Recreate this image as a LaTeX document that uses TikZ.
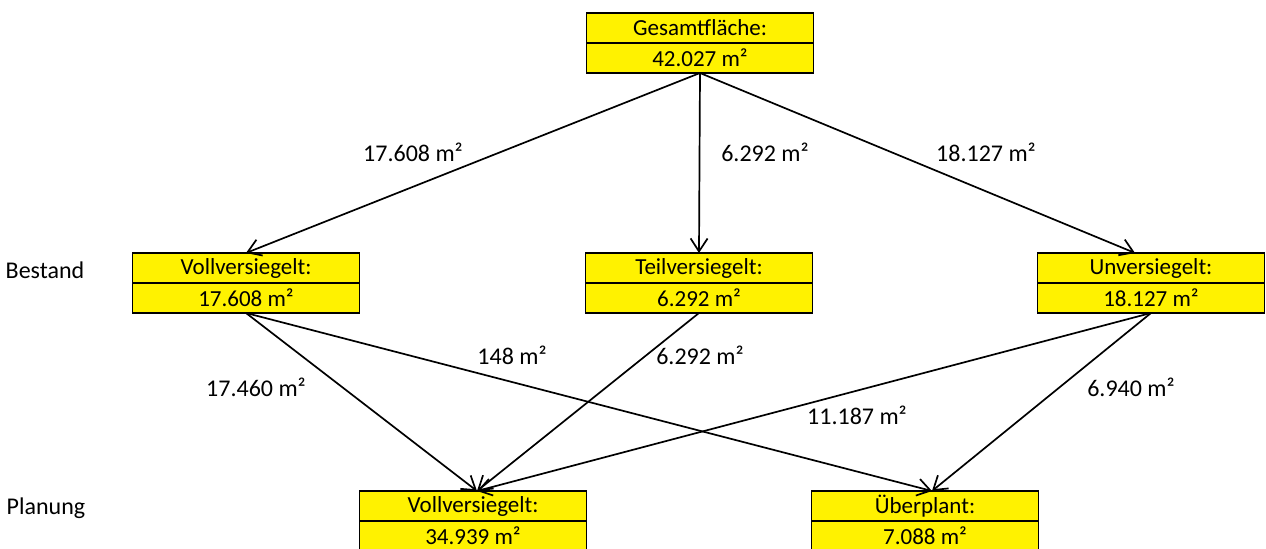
\documentclass[tikz,border=0pt]{standalone}
\usepackage{fontspec}
\setmainfont{Carlito}
\usetikzlibrary{arrows.meta,positioning}
\tikzset{
  flcell/.style={draw,line width=0.9pt,fill=yellow,outer sep=0pt,inner sep=0pt,
    minimum width=113.5pt,minimum height=15pt,font=\fontsize{11.5}{13}\selectfont},
  flarr/.style={line width=0.85pt,-{Straight Barb[length=6.5pt,width=8.5pt]}},
  fllab/.style={font=\fontsize{12}{14}\selectfont}
}
\begin{document}
\begin{tikzpicture}[x=0.5pt,y=-0.5pt]
  \useasboundingbox (0,0) rectangle (1266,549);
  \node [flcell] (ges) at (700,28) {Gesamtfläche:};
  \node [flcell,below=0pt of ges] (gesv) {42.027 m²};
  \node [flcell] (vv) at (246,268) {Vollversiegelt:};
  \node [flcell,below=0pt of vv] (vvv) {17.608 m²};
  \node [flcell] (tv) at (699,268) {Teilversiegelt:};
  \node [flcell,below=0pt of tv] (tvv) {6.292 m²};
  \node [flcell] (uv) at (1151,268) {Unversiegelt:};
  \node [flcell,below=0pt of uv] (uvv) {18.127 m²};
  \node [flcell] (pv) at (473,506) {Vollversiegelt:};
  \node [flcell,below=0pt of pv] (pvv) {34.939 m²};
  \node [flcell] (up) at (925,506) {Überplant:};
  \node [flcell,below=0pt of up] (upv) {7.088 m²};
  \node [fllab] (best) at (45,270) {Bestand};
  \node [fllab] (plan) at (46,508) {Planung};
  \draw [flarr] (gesv.south) -- (vv.north);
  \draw [flarr] (gesv.south) -- (tv.north);
  \draw [flarr] (gesv.south) -- ([xshift=-8pt]uv.north);
  \draw [flarr] (vvv.south) -- ([xshift=2pt]pv.north);
  \draw [flarr] (vvv.south) -- ([xshift=3.5pt]up.north);
  \draw [flarr] (tvv.south) -- ([xshift=2pt]pv.north);
  \draw [flarr] (uvv.south) -- ([xshift=2pt]pv.north);
  \draw [flarr] (uvv.south) -- ([xshift=3.5pt]up.north);
  \node [fllab] (l1) at (413,152) {17.608 m²};
  \node [fllab] (l2) at (765,152) {6.292 m²};
  \node [fllab] (l3) at (986,152) {18.127 m²};
  \node [fllab] (l4) at (512,355) {148 m²};
  \node [fllab] (l5) at (700,355) {6.292 m²};
  \node [fllab] (l6) at (256,387) {17.460 m²};
  \node [fllab] (l7) at (857,415) {11.187 m²};
  \node [fllab] (l8) at (1131,387) {6.940 m²};
\end{tikzpicture}
\end{document}
